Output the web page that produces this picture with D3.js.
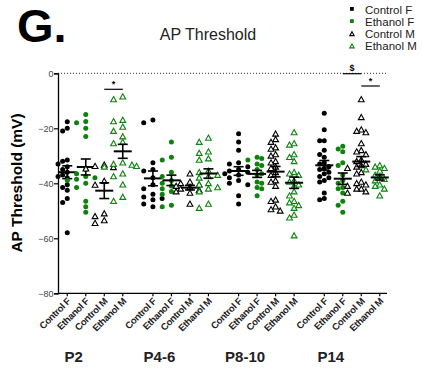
<!DOCTYPE html>
<html>
<head>
<meta charset="utf-8">
<script src="https://cdn.jsdelivr.net/npm/d3@7"></script>
<style>
  body { margin: 0; background: #fff; }
  svg { font-family: "Liberation Sans", Arial, sans-serif; }
</style>
</head>
<body>
<div id="chart"></div>
<script>
// ---- data (mV) ----
const ages = ["P2", "P4-6", "P8-10", "P14"];
const conditions = ["Control F", "Ethanol F", "Control M", "Ethanol M"];

const p2_values = [
  [-17.6, -20, -21, -31.5, -32, -33, -34, -35, -36, -37, -37.5, -38, -40.5, -41.5, -42.5, -45.5, -47, -58],
  [-15, -17.5, -18, -20, -23, -35, -36.5, -37.5, -38, -38.5, -39, -40, -41.5, -46.5, -48.5, -50.5],
  [-33.3, -33.8, -34.2, -34.7, -39.2, -40.6, -51, -52, -53.5, -54.5],
  [-8.5, -9.5, -17, -17.5, -19.5, -21, -23, -25, -25.5, -32.5, -33, -33.3, -33.8, -34, -36.5, -37.5, -40.5, -45, -46.5]
];
const p4_6_values = [
  [-17, -18, -32.5, -35, -35.5, -38, -40.5, -42, -44, -45, -45.5, -46, -47.5, -48.5],
  [-25, -30.5, -31.5, -36, -37.5, -39, -40, -41, -42, -43, -44, -48, -48.5],
  [-36.5, -39.5, -40, -40.5, -41, -41.5, -42, -42.5, -43, -43.5, -47.5],
  [-23.5, -25, -28.5, -29, -31, -31.5, -35.5, -36, -37, -37.5, -38, -40, -40.5, -41.5, -42, -43, -47.5, -49]
];
const p8_10_values = [
  [-22, -25, -28, -32.5, -33, -34, -35, -35.5, -36, -36.5, -37, -38, -39, -40, -40.5, -44.5, -47.5],
  [-30.5, -31, -31.5, -33, -33.5, -35, -36.5, -37, -39.5, -40, -41.5, -42, -44.5],
  [-22, -24, -25, -27, -27.5, -29.5, -30, -32, -32.5, -34, -34.5, -36, -37, -39, -39.5, -41, -46, -46.5, -48.5, -49.5, -50],
  [-21.5, -25.5, -26, -29.5, -30.5, -32, -36, -36.5, -37, -39, -39.5, -40.5, -41, -43, -44.5, -46.5, -47, -48, -49, -51.5, -52.5, -59]
];
const p14_values = [
  [-14.5, -20.5, -24.5, -24.5, -28, -29.5, -30.5, -32.5, -33, -34, -34.5, -35, -36, -36.5, -37.5, -38, -39, -39.5, -43.5, -45.5, -46],
  [-26.5, -27.5, -28.5, -32.5, -33.5, -37, -39, -40, -41.5, -42, -43.5, -46.5, -48, -50.5],
  [-9.5, -16, -20.5, -21, -21.5, -25.5, -28, -28.5, -29.5, -31.5, -32, -33, -33.5, -34, -34.5, -36, -36.5, -39.5, -40, -40.5, -41, -42, -42, -43, -43.5],
  [-33.5, -34, -34.5, -35, -35.5, -37, -37.5, -38.5, -39, -40.5, -41, -42, -44.5]
];
const all_values = [p2_values, p4_6_values, p8_10_values, p14_values];

const y_ticks = [0, -20, -40, -60, -80];

// significance marks: [age index, from condition, to condition, label]
const sig_marks = [
  [0, 2, 3, "*"],
  [3, 1, 2, "$"],
  [3, 2, 3, "*"]
];

// ---- layout ----
const width = 422, height = 368;
const green = "#0d820d";
const group_step = 4.63;   // slots per age group (4 columns + gap)

const svg = d3.select("#chart").append("svg")
  .attr("width", width)
  .attr("height", height);

const x_scale = d3.scaleLinear().domain([-0.5, 17.28]).range([58, 387]);
const y_scale = d3.scaleLinear().domain([-80, 0]).range([293.3, 73.3]);

const slotX = (g, c) => x_scale(g * group_step + c);

// panel letter + title
svg.append("text").attr("x", 17).attr("y", 42)
  .attr("font-size", 47).attr("font-weight", "bold").text("G.");
svg.append("text").attr("x", 208).attr("y", 40).attr("text-anchor", "middle")
  .attr("font-size", 16).attr("fill", "#222").text("AP Threshold");

// legend (small squares for F, open triangles for M)
const legend = svg.append("g");
conditions.forEach((c, i) => {
  const ly = 13.5 + i * 12.2;
  const col = (i % 2 === 1) ? green : "#000";
  if (i < 2) {
    legend.append("rect").attr("x", 350).attr("y", ly - 6.5).attr("width", 3.8).attr("height", 3.8)
      .attr("fill", col);
  } else {
    drawMarker(legend, i, 352, ly - 4, 0.75);
  }
  legend.append("text").attr("x", 365).attr("y", ly)
    .attr("font-size", 11.5).attr("fill", "#222").text(c);
});

// zero reference line
svg.append("line")
  .attr("x1", x_scale.range()[0]).attr("x2", x_scale.range()[1])
  .attr("y1", y_scale(0)).attr("y2", y_scale(0))
  .attr("stroke", "#333").attr("stroke-width", 1)
  .attr("stroke-dasharray", "1,2");

// y axis
const y_axis = svg.append("g")
  .attr("transform", "translate(" + x_scale.range()[0] + ",0)")
  .call(d3.axisLeft(y_scale).tickValues(y_ticks).tickSize(4).tickFormat(d3.format("d")));
y_axis.select(".domain").attr("stroke-width", 1.3);
y_axis.selectAll(".tick line").attr("stroke-width", 1.2);
y_axis.selectAll(".tick text").attr("font-size", 9).attr("fill", "#444")
  .attr("font-family", "Liberation Sans, Arial, sans-serif").attr("x", -4.5);

svg.append("text")
  .attr("transform", "translate(22,183) rotate(-90)")
  .attr("text-anchor", "middle").attr("font-size", 15.5).attr("font-weight", "bold")
  .text("AP Threshold (mV)");

// x axis line + ticks
svg.append("line")
  .attr("x1", x_scale.range()[0]).attr("x2", x_scale.range()[1])
  .attr("y1", y_scale(-80)).attr("y2", y_scale(-80))
  .attr("stroke", "#000").attr("stroke-width", 1.3);

ages.forEach((age, g) => {
  conditions.forEach((c, i) => {
    const tx = slotX(g, i);
    svg.append("line").attr("x1", tx).attr("x2", tx)
      .attr("y1", y_scale(-80)).attr("y2", y_scale(-80) + 3)
      .attr("stroke", "#000").attr("stroke-width", 1.2);
    svg.append("text")
      .attr("transform", "translate(" + (tx + 4) + "," + (y_scale(-80) + 8.5) + ") rotate(-45)")
      .attr("text-anchor", "end").attr("font-size", 9.5).attr("font-weight", "bold")
      .attr("letter-spacing", -0.3).attr("fill", "#222").text(c);
  });
  svg.append("text")
    .attr("x", slotX(g, 0.35)).attr("y", 362)
    .attr("text-anchor", "middle").attr("font-size", 15).attr("font-weight", "bold")
    .attr("fill", "#222").text(age);
});

// markers
function drawMarker(sel, cond, cx, cy, scale) {
  const col = (cond % 2 === 1) ? green : "#000";
  if (cond < 2) {
    sel.append("circle").attr("cx", cx).attr("cy", cy).attr("r", 2.5 * scale)
      .attr("fill", col);
  } else {
    const s = 2.9 * scale;
    sel.append("path")
      .attr("d", "M" + cx + "," + (cy - s) + "L" + (cx + s) + "," + (cy + s * 0.8) +
                 "L" + (cx - s) + "," + (cy + s * 0.8) + "Z")
      .attr("fill", "#fff").attr("stroke", col).attr("stroke-width", 1.1);
  }
}

// simple dodge so points at similar values spread sideways
function dodge(values, cx) {
  const placed = [];
  const sorted = values.slice().sort((a, b) => b - a);
  const d = 4.6;
  sorted.forEach(v => {
    const py = y_scale(v);
    for (let k = 0; k < 12; k++) {
      const off = (k % 2 === 0 ? 1 : -1) * Math.ceil(k / 2) * d;
      const px = cx + off;
      const clash = placed.some(p => Math.abs(p.x - px) < d && Math.abs(p.y - py) < d);
      if (!clash) { placed.push({ x: px, y: py }); break; }
    }
  });
  return placed;
}

const plot = svg.append("g");
all_values.forEach((group, g) => {
  group.forEach((vals, i) => {
    const cx = slotX(g, i);
    dodge(vals, cx).forEach(p => drawMarker(plot, i, p.x, p.y, 1));

    const mean = d3.mean(vals);
    const sem = d3.deviation(vals) / Math.sqrt(vals.length);
    const bars = plot.append("g").attr("stroke", "#000").attr("stroke-width", 1.6);
    bars.append("line").attr("x1", cx - 9).attr("x2", cx + 9)
      .attr("y1", y_scale(mean)).attr("y2", y_scale(mean)).attr("stroke-width", 2);
    bars.append("line").attr("x1", cx).attr("x2", cx)
      .attr("y1", y_scale(mean + sem)).attr("y2", y_scale(mean - sem));
    [mean + sem, mean - sem].forEach(v => {
      bars.append("line").attr("x1", cx - 5).attr("x2", cx + 5)
        .attr("y1", y_scale(v)).attr("y2", y_scale(v));
    });
  });
});

// significance brackets
sig_marks.forEach(([g, a, b, label]) => {
  const ly = label === "$" ? 73.7 : (g === 0 ? 89.3 : 86);
  svg.append("line").attr("x1", slotX(g, a)).attr("x2", slotX(g, b))
    .attr("y1", ly).attr("y2", ly).attr("stroke", "#000").attr("stroke-width", 1.2);
  svg.append("text").attr("x", (slotX(g, a) + slotX(g, b)) / 2).attr("y", ly - 2.5)
    .attr("text-anchor", "middle").attr("font-size", 9).attr("font-weight", "bold")
    .text(label);
});
</script>
</body>
</html>
